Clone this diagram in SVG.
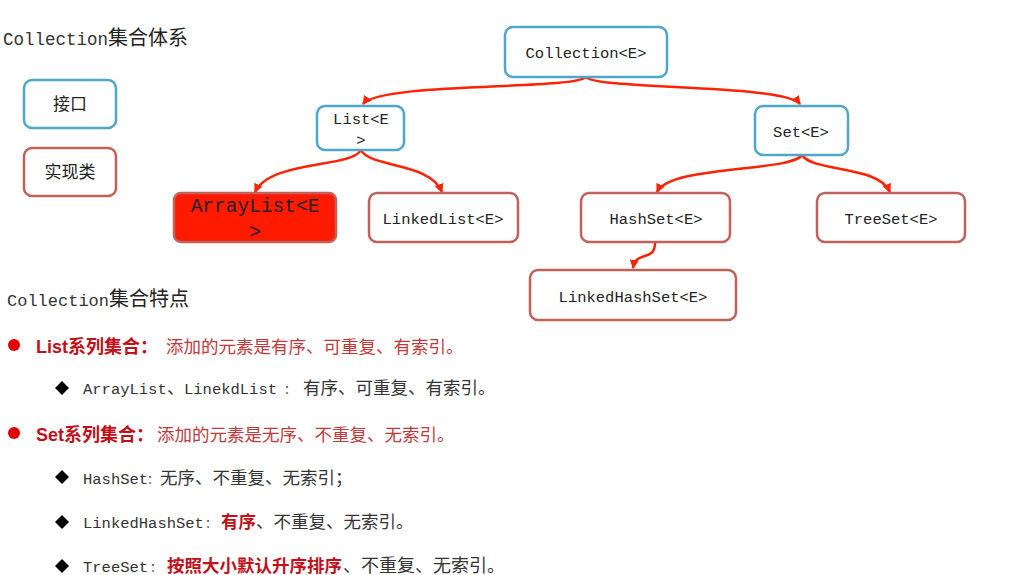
<svg xmlns="http://www.w3.org/2000/svg" width="1016" height="575" viewBox="0 0 1016 575">
<style>
.bg{fill:#ffffff}
.iface{fill:#ffffff;stroke:#4EA6C9;stroke-width:2.5}
.impl{fill:#ffffff;stroke:#C2605A;stroke-width:2.5}
.implred{fill:#FF1A00;stroke:#C2605A;stroke-width:2.5}
.nt{font-family:"Liberation Mono","Noto Sans CJK SC",monospace;font-size:15.5px;fill:#222;text-anchor:middle}
.cj{font-family:"Noto Sans CJK SC",sans-serif;fill:#222}
.mono{font-family:"Liberation Mono","Noto Sans CJK SC",monospace}
.conn{fill:none;stroke:#FF2200;stroke-width:2.5}
.body{font-family:"Liberation Mono","Noto Sans CJK SC",monospace;font-size:15.5px;fill:#333}
.cjk{font-family:"Noto Sans CJK SC",sans-serif;font-size:17.5px}
.col{font-family:"Noto Sans CJK SC",sans-serif;font-size:12px}
.bred{font-family:"Liberation Sans","Noto Sans CJK SC",sans-serif;font-weight:bold;font-size:18px;fill:#C0101A}
.nred{font-family:"Noto Sans CJK SC",sans-serif;font-size:17.5px;fill:#C0393B}
.hred{font-family:"Noto Sans CJK SC",sans-serif;font-weight:bold;font-size:17.5px;fill:#C0101A}
</style>
<defs>
<marker id="arr" markerWidth="9" markerHeight="9" refX="8" refY="4.5" orient="auto" markerUnits="userSpaceOnUse">
<path d="M0,0 L9,4.5 L0,9 z" fill="#FF2200"/>
</marker>
</defs>
<rect class="bg" x="0" y="0" width="1016" height="575"/>

<g id="title1">
<text x="3" y="45" fill="#333"><tspan class="mono" font-size="17.5px">Collection</tspan><tspan class="cj" font-size="20px" fill="#333">集合体系</tspan></text>
</g>

<g id="legend-interface">
<rect class="iface" x="24" y="80" width="92" height="48" rx="8"/>
<text x="70" y="110" class="cj" font-size="17px" text-anchor="middle">接口</text>
</g>
<g id="legend-impl">
<rect class="impl" x="24" y="148" width="92" height="48" rx="8"/>
<text x="70" y="178" class="cj" font-size="17px" text-anchor="middle">实现类</text>
</g>

<g id="connectors">
<path class="conn" d="M586,77 C575,90 380,82 363,104" marker-end="url(#arr)"/>
<path class="conn" d="M586,77 C597,90 785,84 800,104" marker-end="url(#arr)"/>
<path class="conn" d="M361,150 C352,168 270,160 255,192" marker-end="url(#arr)"/>
<path class="conn" d="M361,150 C370,168 430,162 442,192" marker-end="url(#arr)"/>
<path class="conn" d="M802,155 C792,172 670,165 657,192" marker-end="url(#arr)"/>
<path class="conn" d="M802,155 C812,172 878,165 890,192" marker-end="url(#arr)"/>
<path class="conn" d="M655,243 C655,262 636,250 633,268" marker-end="url(#arr)"/>
</g>

<g id="collection">
<rect class="iface" x="505" y="27" width="162" height="50" rx="8"/>
<text class="nt" x="586" y="58">Collection&lt;E&gt;</text>
</g>
<g id="list">
<rect class="iface" x="317" y="106" width="87" height="44" rx="8"/>
<text class="nt" x="361" y="124">List&lt;E</text>
<text class="nt" x="361" y="145">&gt;</text>
</g>
<g id="set">
<rect class="iface" x="755" y="106" width="93" height="49" rx="8"/>
<text class="nt" x="801" y="137">Set&lt;E&gt;</text>
</g>
<g id="arraylist">
<rect class="implred" x="174" y="193" width="162" height="49" rx="7"/>
<text class="nt" x="255" y="212" style="font-size:19.5px">ArrayList&lt;E</text>
<text class="nt" x="255" y="238" style="font-size:19.5px">&gt;</text>
</g>
<g id="linkedlist">
<rect class="impl" x="369" y="193" width="149" height="49" rx="8"/>
<text class="nt" x="443" y="224">LinkedList&lt;E&gt;</text>
</g>
<g id="hashset">
<rect class="impl" x="581" y="193" width="149" height="49" rx="8"/>
<text class="nt" x="656" y="224">HashSet&lt;E&gt;</text>
</g>
<g id="treeset">
<rect class="impl" x="817" y="193" width="148" height="49" rx="8"/>
<text class="nt" x="891" y="224">TreeSet&lt;E&gt;</text>
</g>
<g id="linkedhashset">
<rect class="impl" x="530" y="270" width="206" height="50" rx="8"/>
<text class="nt" x="633" y="302">LinkedHashSet&lt;E&gt;</text>
</g>

<g id="title2">
<text x="7" y="306" fill="#333"><tspan class="mono" font-size="17px">Collection</tspan><tspan class="cj" font-size="20px" fill="#333">集合特点</tspan></text>
</g>

<g id="features">
<circle cx="14" cy="345" r="6" fill="#E00000"/>
<text y="353"><tspan class="bred" x="36">List系列集合：</tspan><tspan class="nred" x="166">添加的元素是有序、可重复、有索引。</tspan></text>

<path d="M62,381 L69,388 L62,395 L55,388 z" fill="#000"/>
<text class="body" y="394"><tspan x="83">ArrayList</tspan><tspan class="cjk" x="167">、</tspan><tspan x="184">LinekdList</tspan><tspan class="col" x="284">：</tspan><tspan class="cjk" x="303">有序、可重复、有索引。</tspan></text>

<circle cx="14" cy="433" r="6" fill="#E00000"/>
<text y="441"><tspan class="bred" x="36">Set系列集合：</tspan><tspan class="nred" x="157">添加的元素是无序、不重复、无索引。</tspan></text>

<path d="M62,470 L69,477 L62,484 L55,477 z" fill="#000"/>
<text class="body" y="484"><tspan x="83">HashSet</tspan><tspan class="col" x="147">：</tspan><tspan class="cjk" x="160">无序、不重复、无索引；</tspan></text>

<path d="M62,515 L69,522 L62,529 L55,522 z" fill="#000"/>
<text class="body" y="528"><tspan x="83">LinkedHashSet</tspan><tspan class="col" x="205">：</tspan><tspan class="hred" x="221">有序</tspan><tspan class="cjk" x="256">、不重复、无索引。</tspan></text>

<path d="M62,559 L69,566 L62,573 L55,566 z" fill="#000"/>
<text class="body" y="572"><tspan x="83">TreeSet</tspan><tspan class="col" x="150">：</tspan><tspan class="hred" x="167">按照大小默认升序排序</tspan><tspan class="cjk" x="343" style="font-size:18px">、不重复、无索引。</tspan></text>
</g>
</svg>
